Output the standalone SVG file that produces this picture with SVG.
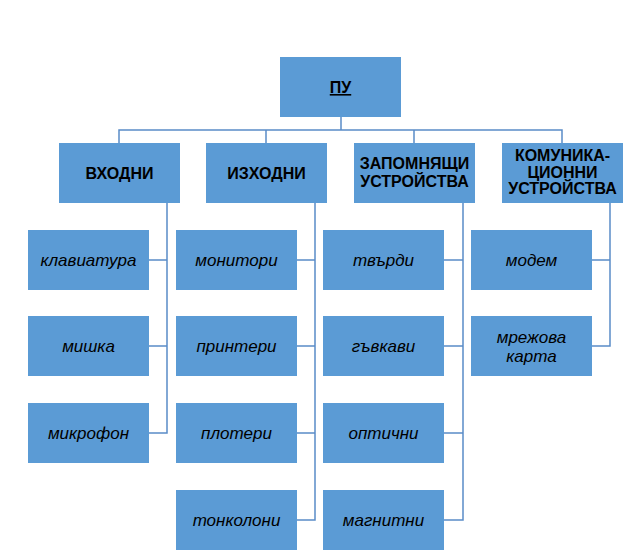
<svg xmlns="http://www.w3.org/2000/svg" width="631" height="557" viewBox="0 0 631 557">
<style>
.box{fill:#5b9bd5;}
.h{font-family:"Liberation Sans",Arial,sans-serif;font-weight:bold;font-size:16px;fill:#000;text-anchor:middle;}
.c{font-family:"Liberation Sans",Arial,sans-serif;font-style:italic;font-size:17px;fill:#000;text-anchor:middle;}
.ln{fill:none;stroke:#5a8cc8;stroke-width:1.5;}
</style>
<rect width="631" height="557" fill="#fff"/>
<g id="connectors">
<path class="ln" d="M341,117 V130 M119,143 V130 H562 V143 M266,130 V143 M414,130 V143"/>
<path class="ln" d="M167,203 V433 H149 M149,260 H167 M149,346 H167"/>
<path class="ln" d="M315,203 V520 H297 M297,260 H315 M297,346 H315 M297,433 H315"/>
<path class="ln" d="M463,203 V520 H444 M444,260 H463 M444,346 H463 M444,433 H463"/>
<path class="ln" d="M610,203 V346 H592 M592,260 H610"/>
</g>
<g id="pu"><rect class="box" x="280" y="57" width="121" height="60"/><text class="h" x="340.5" y="93" text-decoration="underline">ПУ</text></g>
<g id="vhodni"><rect class="box" x="59" y="143" width="121" height="60"/><text class="h" x="119.5" y="179">ВХОДНИ</text></g>
<g id="izhodni"><rect class="box" x="206" y="143" width="121" height="60"/><text class="h" x="266.5" y="179">ИЗХОДНИ</text></g>
<g id="zapomnyashti"><rect class="box" x="354" y="143" width="121" height="60"/><text class="h" x="414.5" y="169">ЗАПОМНЯЩИ</text><text class="h" x="414.5" y="187">УСТРОЙСТВА</text></g>
<g id="komunikacionni"><rect class="box" x="502" y="143" width="121" height="60"/><text class="h" x="562.5" y="161">КОМУНИКА-</text><text class="h" x="562.5" y="177.5">ЦИОННИ</text><text class="h" x="562.5" y="194">УСТРОЙСТВА</text></g>
<g id="klaviatura"><rect class="box" x="28" y="230" width="121" height="60"/><text class="c" x="88.5" y="266">клавиатура</text></g>
<g id="mishka"><rect class="box" x="28" y="316" width="121" height="60"/><text class="c" x="88.5" y="352">мишка</text></g>
<g id="mikrofon"><rect class="box" x="28" y="403" width="121" height="60"/><text class="c" x="88.5" y="439">микрофон</text></g>
<g id="monitori"><rect class="box" x="176" y="230" width="121" height="60"/><text class="c" x="236.5" y="266">монитори</text></g>
<g id="printeri"><rect class="box" x="176" y="316" width="121" height="60"/><text class="c" x="236.5" y="352">принтери</text></g>
<g id="ploteri"><rect class="box" x="176" y="403" width="121" height="60"/><text class="c" x="236.5" y="439">плотери</text></g>
<g id="tonkoloni"><rect class="box" x="176" y="490" width="121" height="60"/><text class="c" x="236.5" y="526">тонколони</text></g>
<g id="tvardi"><rect class="box" x="323" y="230" width="121" height="60"/><text class="c" x="383.5" y="266">твърди</text></g>
<g id="gavkavi"><rect class="box" x="323" y="316" width="121" height="60"/><text class="c" x="383.5" y="352">гъвкави</text></g>
<g id="optichni"><rect class="box" x="323" y="403" width="121" height="60"/><text class="c" x="383.5" y="439">оптични</text></g>
<g id="magnitni"><rect class="box" x="323" y="490" width="121" height="60"/><text class="c" x="383.5" y="526">магнитни</text></g>
<g id="modem"><rect class="box" x="471" y="230" width="121" height="60"/><text class="c" x="531.5" y="266">модем</text></g>
<g id="mrezhova"><rect class="box" x="471" y="316" width="121" height="60"/><text class="c" x="531.5" y="343">мрежова</text><text class="c" x="531.5" y="362">карта</text></g>
</svg>
